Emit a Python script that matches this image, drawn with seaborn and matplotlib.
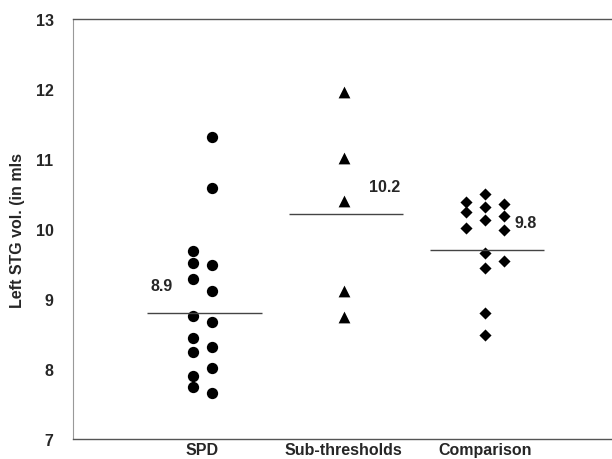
import numpy as np
import pandas as pd
import matplotlib
matplotlib.use('Agg')
import matplotlib.pyplot as plt
import seaborn as sns

# ── data ──────────────────────────────────────────────────────────────────────
GROUPS = ["SPD", "Sub-thresholds", "Comparison"]

spd_vals  = [11.31, 10.59, 9.49, 9.11, 8.67, 8.31, 8.01, 7.66,
             9.69, 9.51, 9.29, 8.76, 8.45, 8.24, 7.90, 7.75]
spd_cols  = [1] * 8 + [0] * 8

sub_vals  = [11.96, 11.02, 10.40, 9.12, 8.74]
sub_cols  = [0] * 5

comp_vals = [10.39, 10.25, 10.02,
             10.50, 10.32, 10.13, 9.66, 9.45, 8.80, 8.49,
             10.36, 10.18, 9.99, 9.54]
comp_cols = [0] * 3 + [1] * 7 + [2] * 4

mean_lines  = [8.80, 10.21, 9.70]
mean_labels = ["8.9", "10.2", "9.8"]

# ── style ─────────────────────────────────────────────────────────────────────
sns.set_style("white")
plt.rcParams['font.family'] = ['Liberation Sans', 'DejaVu Sans']
plt.rcParams['font.weight'] = 'bold'

MARKERS = {"SPD": "o", "Sub-thresholds": "^", "Comparison": "D"}
SIZES   = {"SPD": 66, "Sub-thresholds": 72, "Comparison": 38}
STEP = 0.134

rows = []
for gi, (g, vals, cols) in enumerate(zip(GROUPS,
                                         [spd_vals, sub_vals, comp_vals],
                                         [spd_cols, sub_cols, comp_cols])):
    ncol = max(cols) + 1
    for v, c in zip(vals, cols):
        rows.append({"group": g, "value": v,
                     "x": gi + (c - (ncol - 1) / 2) * STEP})
df = pd.DataFrame(rows)

fig = plt.figure(figsize=(6.12, 4.6), dpi=100)
ax = fig.add_axes([73 / 612, 20 / 460, 1 - 73 / 612, 420 / 460])

for g in GROUPS:
    sub = df[df.group == g]
    sns.scatterplot(data=sub, x="x", y="value", marker=MARKERS[g],
                    s=SIZES[g], color="black", edgecolor="black",
                    linewidth=0, ax=ax, legend=False)

side = [-1, 1, 1]
for i, (m, lab) in enumerate(zip(mean_lines, mean_labels)):
    ax.hlines(m, i - 0.39, i + 0.42, color="#444444", lw=1.0)
    ax.text(i + side[i] * 0.29, m + 0.39, lab, ha="center", va="center",
            fontsize=11.5, fontweight="bold")

ax.set_xlim(-0.916, 2.899)
ax.set_ylim(7, 13)
ax.set_yticks(range(7, 14))
ax.set_xticks(range(len(GROUPS)))
ax.set_xticklabels(GROUPS, fontsize=11.5, fontweight="bold")
ax.tick_params(axis="x", length=0, pad=2)
ax.tick_params(axis="y", direction="inout", length=8, width=0.8,
               color="#777777", pad=10, labelsize=11.5)
for t in ax.get_yticklabels():
    t.set_fontweight("bold")

ax.set_xlabel("")
ax.set_ylabel("Left STG vol. (in mls", fontsize=11.5, fontweight="bold")
ax.yaxis.set_label_coords(-48 / 539, 0.5)

ax.spines["right"].set_visible(False)
ax.spines["left"].set_color("#999999")
ax.spines["left"].set_linewidth(0.8)
for s in ["top", "bottom"]:
    ax.spines[s].set_color("#555555")
    ax.spines[s].set_linewidth(1.0)

fig.savefig("out.png", dpi=100)
